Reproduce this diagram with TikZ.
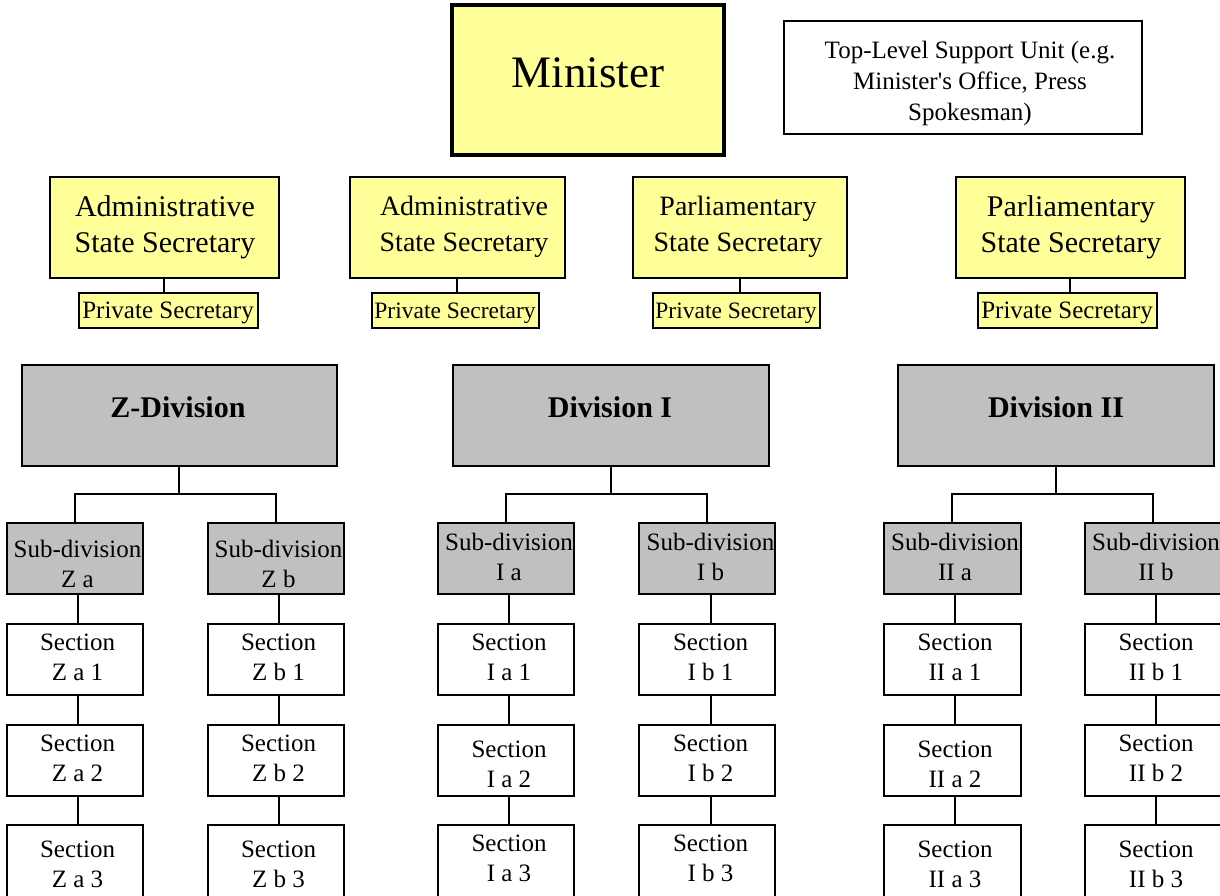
\documentclass[tikz,border=0pt]{standalone}
\usepackage{fontspec}
\setmainfont{Liberation Serif}
\definecolor{ylw}{HTML}{FFFF99}
\definecolor{gry}{HTML}{C0C0C0}
\newcommand{\bx}[9]{%
  \node[#6, minimum width=#4pt, minimum height=#5pt] (#1) at (#2,#3) {};
  \node[#6 t] (#1t) at (#7,#8) {#9};}
\tikzset{
  bxb/.style={draw=black, line width=2pt, inner sep=0pt, rectangle},
  txtb/.style={inner sep=0pt, align=center, text=black},
  minbx/.style={bxb, fill=ylw, line width=4pt},
  minbx t/.style={txtb, font=\fontsize{45}{54}\selectfont},
  supbx/.style={bxb, fill=white, line width=1.6pt},
  supbx t/.style={txtb, font=\fontsize{25}{31}\selectfont},
  ssbx/.style={bxb, fill=ylw},
  ssbx t/.style={txtb, font=\fontsize{30}{36}\selectfont},
  ssmbx/.style={bxb, fill=ylw},
  ssmbx t/.style={txtb, font=\fontsize{28}{36}\selectfont},
  pvbx/.style={bxb, fill=ylw},
  pvbx t/.style={txtb, font=\fontsize{25}{30}\selectfont},
  pvmbx/.style={bxb, fill=ylw},
  pvmbx t/.style={txtb, font=\fontsize{23.5}{30}\selectfont},
  divbx/.style={bxb, fill=gry},
  divbx t/.style={txtb, font=\fontsize{30}{36}\selectfont\bfseries},
  subbx/.style={bxb, fill=gry},
  subbx t/.style={txtb, font=\fontsize{25}{30}\selectfont},
  secbx/.style={bxb, fill=white},
  secbx t/.style={txtb, font=\fontsize{25}{30}\selectfont},
  conn/.style={draw=black, line width=2pt}
}
\begin{document}
\begin{tikzpicture}[x=1pt, y=-1pt]
\clip (0,0) rectangle (1220,896);
\fill[white] (0,0) rectangle (1220,896);

% top
\bx{min}{588}{80}{272}{150}{minbx}{588}{73}{Minister}
\bx{sup}{963}{77.5}{358}{113}{supbx}{970}{83}{Top-Level Support Unit (e.g.\\Minister\textquotesingle s Office, Press\\Spokesman)}

% state secretaries
\bx{as1}{164}{227.5}{229}{100}{ssbx}{165}{227}{Administrative\\State Secretary}
\bx{as2}{457}{227.5}{215}{100}{ssmbx}{464}{227}{Administrative\\State Secretary}
\bx{pa1}{739.5}{227.5}{214}{100}{ssmbx}{738}{227}{Parliamentary\\State Secretary}
\bx{pa2}{1070}{227.5}{229}{100}{ssbx}{1071}{227}{Parliamentary\\State Secretary}

% private secretaries
\bx{pv1}{168}{310}{179}{35}{pvbx}{168}{313}{Private Secretary}
\bx{pv2}{455}{310}{167}{35}{pvmbx}{455}{313}{Private Secretary}
\bx{pv3}{736}{310}{167}{35}{pvmbx}{736}{313}{Private Secretary}
\bx{pv4}{1067}{310}{179}{35}{pvbx}{1067}{313}{Private Secretary}

\draw[conn] (as1.south) -- (as1.south |- pv1.north);
\draw[conn] (as2.south) -- (as2.south |- pv2.north);
\draw[conn] (pa1.south) -- (pa1.south |- pv3.north);
\draw[conn] (pa2.south) -- (pa2.south |- pv4.north);

% divisions
\bx{zd}{179}{415}{315}{101}{divbx}{178}{407}{Z-Division}
\bx{d1}{610.5}{415}{316}{101}{divbx}{610}{407}{Division I}
\bx{d2}{1055.5}{415}{316}{101}{divbx}{1056}{407}{Division II}

% sub-divisions
\bx{za}{74.5}{558.5}{136}{71}{subbx}{77.5}{563.5}{Sub-division\\Z a}
\bx{zb}{275.5}{558.5}{136}{71}{subbx}{278.5}{563.5}{Sub-division\\Z b}
\bx{ia}{505.5}{558.5}{136}{71}{subbx}{509}{556.5}{Sub-division\\I a}
\bx{ib}{706.5}{558.5}{136}{71}{subbx}{710.5}{556.5}{Sub-division\\I b}
\bx{ha}{952}{558.5}{137}{71}{subbx}{955}{556.5}{Sub-division\\II a}
\bx{hb}{1152.5}{558.5}{136}{71}{subbx}{1156}{556.5}{Sub-division\\II b}

% sections
\bx{za1}{74.5}{659}{136}{71}{secbx}{77.5}{657.5}{Section\\Z a 1}
\bx{za2}{74.5}{760}{136}{71}{secbx}{77.5}{758.5}{Section\\Z a 2}
\bx{za3}{74.5}{864.5}{136}{80}{secbx}{77.5}{864.5}{Section\\Z a 3}
\bx{zb1}{275.5}{659}{136}{71}{secbx}{278.5}{657.5}{Section\\Z b 1}
\bx{zb2}{275.5}{760}{136}{71}{secbx}{278.5}{758.5}{Section\\Z b 2}
\bx{zb3}{275.5}{864.5}{136}{80}{secbx}{278.5}{864.5}{Section\\Z b 3}
\bx{ia1}{505.5}{659}{136}{71}{secbx}{509}{657.5}{Section\\I a 1}
\bx{ia2}{505.5}{760}{136}{71}{secbx}{509}{764}{Section\\I a 2}
\bx{ia3}{505.5}{864.5}{136}{80}{secbx}{509}{858}{Section\\I a 3}
\bx{ib1}{706.5}{659}{136}{71}{secbx}{710.5}{657.5}{Section\\I b 1}
\bx{ib2}{706.5}{760}{136}{71}{secbx}{710.5}{758}{Section\\I b 2}
\bx{ib3}{706.5}{864.5}{136}{80}{secbx}{710.5}{858}{Section\\I b 3}
\bx{ha1}{952}{659}{137}{71}{secbx}{955}{657.5}{Section\\II a 1}
\bx{ha2}{952}{760}{137}{71}{secbx}{955}{764}{Section\\II a 2}
\bx{ha3}{952}{864.5}{137}{80}{secbx}{955}{864.5}{Section\\II a 3}
\bx{hb1}{1152.5}{659}{136}{71}{secbx}{1156}{657.5}{Section\\II b 1}
\bx{hb2}{1152.5}{760}{136}{71}{secbx}{1156}{758}{Section\\II b 2}
\bx{hb3}{1152.5}{864.5}{136}{80}{secbx}{1156}{864.5}{Section\\II b 3}

% division to sub-division connectors
\draw[conn] (zd.south) -- ++(0,28);
\draw[conn] (za.north) -- ++(0,-28) -| (zb.north);
\draw[conn] (d1.south) -- ++(0,28);
\draw[conn] (ia.north) -- ++(0,-28) -| (ib.north);
\draw[conn] (d2.south) -- ++(0,28);
\draw[conn] (ha.north) -- ++(0,-28) -| (hb.north);

% sub-division to section chains
\foreach \c in {za,zb,ia,ib,ha,hb}{
  \draw[conn] (\c.south -| \c1t) -- (\c1.north -| \c1t);
  \draw[conn] (\c1.south -| \c1t) -- (\c2.north -| \c1t);
  \draw[conn] (\c2.south -| \c1t) -- (\c3.north -| \c1t);
}
\end{tikzpicture}
\end{document}
